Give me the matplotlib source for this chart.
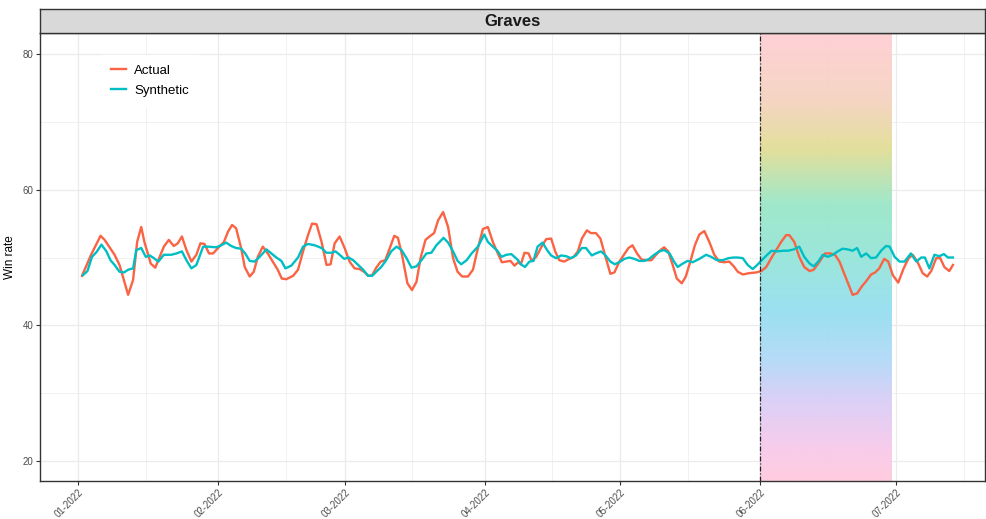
import numpy as np
import pandas as pd
import matplotlib.pyplot as plt
import matplotlib.dates as mdates
from matplotlib.colors import LinearSegmentedColormap

plt.rcParams['font.family'] = ['Liberation Sans', 'DejaVu Sans']

# ---------------------------------------------------------------
# Data (day offsets from 2022-01-01, win rate)
# ---------------------------------------------------------------
actual_day = [0.9, 2.9, 5.0, 5.9, 8.1, 9.2, 11.1, 12.2, 13.1, 14.0, 14.7, 16.1, 17.1, 19.0,
              20.1, 21.2, 22.1, 23.0, 24.0, 25.1, 26.2, 27.1, 28.0, 29.0, 29.9, 31.0, 32.3,
              33.2, 34.1, 35.0, 36.1, 36.9, 38.0, 38.9, 39.8, 40.9, 42.0, 43.1, 44.2, 45.1,
              46.1, 47.6, 48.7, 49.8, 50.9, 51.8, 52.8, 53.9, 55.0, 55.9, 56.8, 57.9, 59.0,
              60.1, 61.2, 62.3, 63.3, 64.2, 65.1, 66.0, 67.0, 68.0, 69.0, 70.0, 70.8, 71.7,
              72.9, 73.9, 74.9, 75.8, 76.9, 77.8, 78.8, 79.7, 80.8, 81.9, 83.0, 84.0, 85.0,
              86.3, 87.4, 88.5, 89.6, 90.7, 91.8, 92.9, 93.8, 94.8, 95.7, 96.6, 97.4, 98.0,
              98.8, 99.7, 100.4, 101.4, 102.5, 103.6, 104.7, 105.6, 106.5, 107.6, 108.7,
              109.7, 110.6, 111.5, 112.6, 113.5, 114.6, 115.6, 116.6, 117.8, 118.7, 119.8,
              120.9, 121.8, 122.7, 123.7, 124.7, 125.9, 126.9, 127.9, 128.9, 129.7, 130.6,
              131.6, 132.5, 133.6, 134.5, 135.5, 136.5, 137.5, 138.6, 139.7, 140.8, 141.9,
              143.0, 144.1, 145.1, 146.0, 147.1, 148.6, 150.1, 151.2, 152.3, 153.4, 154.5,
              155.6, 156.7, 157.4, 158.5, 159.6, 160.7, 161.9, 162.8, 164.1, 165.3, 166.5,
              167.5, 168.5, 169.5, 170.5, 171.4, 172.4, 173.4, 174.4, 175.5, 176.4, 177.3,
              178.4, 179.3, 180.3, 181.5, 182.7, 183.8, 184.7, 185.8, 186.9, 187.9, 188.8,
              189.9, 190.8, 191.7, 192.8, 193.6]
actual_val = [47.3, 50.4, 53.2, 52.6, 50.4, 48.9, 44.5, 46.7, 52.3, 54.5, 52.3, 49.1, 48.5, 51.6,
              52.6, 51.7, 52.1, 53.1, 51.1, 49.4, 50.4, 52.1, 52.0, 50.6, 50.6, 51.4, 52.3,
              53.8, 54.8, 54.3, 51.4, 48.6, 47.2, 47.9, 50.1, 51.6, 50.6, 49.4, 48.2, 46.9,
              46.8, 47.3, 48.2, 50.9, 53.3, 55.0, 54.9, 52.3, 48.9, 49.0, 52.1, 53.1, 51.4,
              49.4, 48.4, 48.3, 47.9, 47.3, 47.4, 48.5, 49.4, 49.6, 51.4, 53.2, 52.9, 50.4,
              46.2, 45.2, 46.4, 49.9, 52.6, 53.1, 53.6, 55.5, 56.7, 54.5, 49.9, 47.9, 47.2,
              47.2, 48.2, 51.4, 54.2, 54.5, 52.3, 50.6, 49.3, 49.4, 49.5, 48.8, 49.3, 49.0,
              50.7, 50.6, 49.5, 50.1, 51.5, 52.7, 52.8, 50.9, 49.6, 49.4, 49.8,
              50.1, 50.9, 52.8, 54.0, 53.6, 53.6, 52.8, 50.4, 47.6, 47.8, 49.4,
              50.5, 51.4, 51.8, 50.6, 49.7, 49.6, 49.6, 50.4, 51.1, 51.5, 50.9,
              48.9, 46.9, 46.2, 47.2, 49.4, 51.8, 53.4, 53.9, 52.3, 50.4, 49.4,
              49.3, 49.4, 48.7, 47.9, 47.5, 47.7, 47.8, 48.0, 48.6, 49.9, 51.1,
              52.3, 53.3, 53.3, 52.3, 50.1, 48.6, 48.0, 48.2, 49.4, 50.6, 50.6,
              50.4, 49.4, 47.7, 46.0, 44.5, 44.7, 45.7, 46.5, 47.5, 47.8, 48.4,
              49.8, 49.4, 47.4, 46.3, 48.4, 49.9, 50.4, 49.3, 47.7, 47.2, 48.0,
              49.9, 49.9, 48.6, 48.0, 48.9]

synth_day = [1.1, 2.1, 3.1, 4.1, 5.2, 6.3, 7.2, 8.1, 9.2, 10.2, 11.1, 12.2, 12.9, 14.0, 15.0,
             15.9, 16.8, 17.8, 19.0, 20.6, 21.8, 23.0, 24.0, 25.1, 26.2, 27.7, 28.8, 30.6,
             31.7, 32.8, 33.9, 35.0, 36.1, 37.0, 38.0, 39.1, 40.2, 41.7, 42.8, 43.9, 45.0,
             45.9, 47.2, 48.7, 49.8, 50.9, 52.4, 53.9, 55.0, 56.1, 57.0, 57.9, 58.9, 59.9,
             60.9, 62.0, 63.1, 64.2, 65.1, 66.0, 67.1, 68.2, 69.3, 70.5, 71.6, 72.7, 73.8,
             74.9, 76.0, 77.1, 78.2, 79.3, 80.9, 81.9, 83.0, 84.0, 84.8, 86.0, 87.1, 88.5,
             89.9, 90.7, 91.8, 92.8, 93.7, 94.8, 95.9, 97.4, 98.0, 98.9, 99.9, 100.8, 101.7,
             102.8, 103.8, 104.7, 105.8, 106.9, 108.0, 109.1, 110.2, 111.5, 112.4, 113.7,
             114.6, 115.7, 116.6, 117.8, 118.8, 120.0, 120.9, 122.0, 123.1, 124.2, 125.3,
             126.4, 127.5, 128.6, 129.7, 130.9, 131.8, 132.7, 133.8, 134.9, 136.0, 137.5,
             139.0, 140.1, 141.4, 142.7, 143.9, 145.1, 146.0, 147.1, 148.2, 149.3, 150.3,
             151.3, 152.5, 153.5, 154.7, 156.0, 157.1, 158.4, 159.6, 160.7, 161.9, 162.8,
             163.8, 164.8, 165.9, 167.0, 168.1, 169.2, 170.3, 171.4, 172.4, 173.3, 174.4,
             175.5, 176.6, 177.7, 178.8, 179.6, 180.7, 181.8, 182.9, 184.3, 185.5, 186.6,
             187.4, 188.4, 189.5, 190.6, 191.6, 192.5, 193.6]
synth_val = [47.4, 48.0, 50.1, 50.8, 51.9, 50.9, 49.6, 48.9, 47.9, 47.8, 48.2, 48.4, 51.1, 51.4, 50.1,
             50.3, 49.9, 49.4, 50.4, 50.4, 50.6, 50.9, 49.6, 48.4, 48.9, 51.6, 51.6, 51.5,
             51.8, 52.2, 51.7, 51.4, 51.3, 50.6, 49.5, 49.4, 50.1, 51.2, 50.6, 50.0, 49.5,
             48.4, 48.8, 50.0, 51.6, 52.0, 51.8, 51.4, 50.7, 50.7, 50.9, 50.4, 49.8, 50.0,
             49.6, 48.9, 48.2, 47.3, 47.3, 47.9, 48.6, 49.6, 50.9, 51.6, 51.1, 49.9, 48.5,
             48.7, 49.6, 50.6, 50.7, 51.8, 52.9, 52.2, 50.9, 49.5, 49.0, 49.6, 50.6, 51.6,
             53.4, 52.3, 51.6, 51.0, 50.1, 50.4, 50.5, 49.6, 49.0, 48.6, 49.4, 49.5, 51.6,
             52.2, 51.1, 50.3, 49.9, 50.3, 50.2, 49.9, 50.3, 51.4, 51.4, 50.3,
             50.6, 50.9, 50.4, 49.4, 49.0, 49.4, 49.8, 50.0, 49.8, 49.5, 49.5,
             49.8, 50.4, 50.9, 51.1, 50.6, 49.5, 48.6, 49.1, 49.5, 49.3, 49.8,
             50.4, 50.1, 49.6, 49.6, 49.9, 50.0, 50.0, 49.9, 48.9, 48.3, 48.9,
             49.6, 50.4, 51.0, 50.9, 51.0, 51.0, 51.2, 51.6, 50.1, 49.1, 48.7,
             49.4, 50.4, 50.1, 50.4, 50.9, 51.3, 51.2, 51.0, 51.4, 50.1, 50.6,
             49.9, 50.0, 51.0, 51.7, 51.6, 50.1, 49.4, 49.4, 50.6, 49.4, 50.0,
             50.0, 48.4, 50.4, 50.2, 50.5, 50.0, 50.0]

start = pd.Timestamp("2022-01-01")
actual_dates = start + pd.to_timedelta(actual_day, unit="D")
synth_dates = start + pd.to_timedelta(synth_day, unit="D")

treat_start = pd.Timestamp("2022-06-01")
treat_end = pd.Timestamp("2022-06-30")

# gradient colours for the treatment window (top -> bottom) and where they sit
grad_pos = [0.0, 0.15, 0.26, 0.38, 0.51, 0.62, 0.73, 0.82, 0.93, 1.0]
grad_colors = ["#FFCDD3", "#F5D2BE", "#E0DD92", "#98E6C6", "#92E4DA",
               "#92DEF0", "#B0D8F8", "#D8CCF6", "#F8C8EA", "#FFC8DC"]

# ---------------------------------------------------------------
# Figure
# ---------------------------------------------------------------
fig = plt.figure(figsize=(9.87, 5.19), dpi=100)
left, right = 40 / 987, 985 / 987
bottom, top = 1 - 481 / 519, 1 - 33 / 519
ax = fig.add_axes([left, bottom, right - left, top - bottom])

xmin = start - pd.Timedelta(days=8.4)
xmax = start + pd.Timedelta(days=200.7)
ymin, ymax = 17.05, 83.1

# gradient rectangle
cmap = LinearSegmentedColormap.from_list("grad", list(zip(grad_pos, grad_colors)))
grad = np.linspace(0, 1, 256).reshape(-1, 1)
ax.imshow(grad, cmap=cmap, aspect="auto", alpha=0.92,
          extent=[mdates.date2num(treat_start), mdates.date2num(treat_end), ymin, ymax],
          origin="upper", zorder=1)

ax.plot(actual_dates, actual_val, color="#FA6343", lw=1.7, label="Actual", zorder=3)
ax.plot(synth_dates, synth_val, color="#00BFC4", lw=1.7, label="Synthetic", zorder=3)

ax.axvline(treat_start, color="#222222", lw=0.9, linestyle=(0, (4, 1.5, 1, 1.5)), zorder=4)

ax.set_xlim(xmin, xmax)
ax.set_ylim(ymin, ymax)

# ticks and grid
ax.xaxis.set_major_locator(mdates.MonthLocator())
ax.xaxis.set_minor_locator(mdates.MonthLocator(bymonthday=16))
ax.xaxis.set_major_formatter(mdates.DateFormatter("%m-%Y"))
ax.set_yticks([20, 40, 60, 80])
ax.set_yticks([30, 50, 70], minor=True)
ax.grid(which="major", color="#EBEBEB", lw=0.9, zorder=0)
ax.grid(which="minor", color="#EBEBEB", lw=0.5, zorder=0)
ax.set_axisbelow(True)
ax.tick_params(which="major", length=3, color="#333333", labelsize=7, labelcolor="#4D4D4D", pad=1.5)
ax.tick_params(which="minor", length=0)
for lab in ax.get_xticklabels():
    lab.set_rotation(45)
    lab.set_ha("right")
    lab.set_va("top")
    lab.set_rotation_mode("anchor")

for s in ax.spines.values():
    s.set_color("#333333")
    s.set_linewidth(1.0)

ax.set_ylabel("Win rate", fontsize=8.5, color="black", labelpad=5)

leg = ax.legend(loc="upper left", bbox_to_anchor=(0.058, 0.965), fontsize=9.5,
                frameon=True, fancybox=False, edgecolor="white", facecolor="white",
                framealpha=1, handlelength=1.2, borderpad=0.7, labelspacing=0.6,
                handletextpad=0.6)
leg.set_zorder(5)

# facet strip
strip = fig.add_axes([left, top, right - left, 24 / 519])
strip.set_facecolor("#D9D9D9")
strip.set_xticks([])
strip.set_yticks([])
for s in strip.spines.values():
    s.set_color("#333333")
    s.set_linewidth(1.0)
strip.text(0.5, 0.5, "Graves", ha="center", va="center", fontsize=12,
           fontweight="bold", color="#1A1A1A", transform=strip.transAxes)

fig.savefig("out.png", dpi=100)
